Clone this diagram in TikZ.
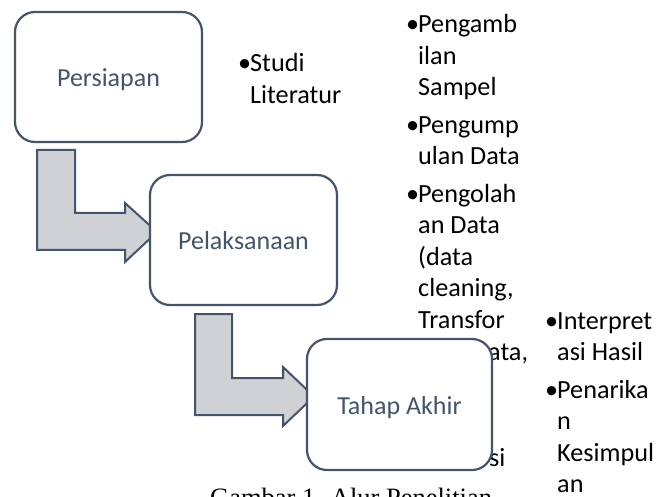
\documentclass[tikz,border=0pt]{standalone}
\usepackage{fontspec}
\setmainfont{Carlito}
\newfontfamily\capfont{Liberation Serif}
\definecolor{slate}{HTML}{44546A}
\definecolor{slatetext}{HTML}{44546A}
\definecolor{arrowfill}{HTML}{CFD1D5}
\newcommand{\bulline}[1]{\hbox{\llap{\makebox[12pt][l]{•}}#1}}
\newcommand{\txtline}[1]{\hbox{#1}}
\newcommand{\paragap}{\vskip 6pt}
\newcommand{\textblock}[1]{\vtop{\baselineskip=31.5pt\lineskiplimit=-100pt\lineskip=0pt #1}}
\tikzset{
  stage/.style={draw=slate, line width=2.2pt, fill=white, rounded corners=20pt,
    minimum width=187pt, minimum height=130pt, inner sep=0pt, text=slatetext,
    font=\fontsize{26}{31}\selectfont, text height=24pt, text depth=4pt},
  blockarrow/.style={draw=slate, line width=2pt, fill=arrowfill, line join=miter},
  bullets/.style={anchor=base west, inner sep=0pt, text=black,
    font=\fontsize{26.2}{31.5}\selectfont},
  caption/.style={anchor=base west, inner sep=0pt, text=black,
    font=\capfont\fontsize{26.5}{30}\selectfont}
}
\begin{document}
\begin{tikzpicture}[x=1pt, y=-1pt]
\clip (0,0) rectangle (656,497);
\fill[white] (0,0) rectangle (656,497);

% block arrows
\draw[blockarrow] (37,150) -- (75,150) -- (75,213) -- (125,213) -- (125,203)
  -- (157,232) -- (125,262) -- (125,250) -- (37,250) -- cycle;
\draw[blockarrow] (195,314) -- (232,314) -- (232,378) -- (283,378) -- (283,367)
  -- (314,396.5) -- (283,426) -- (283,415) -- (195,415) -- cycle;

% bullet texts
\node[bullets] (studi) at (250,72) {\textblock{\bulline{Studi}\txtline{Literatur}}};
\node[bullets] (pelaks) at (418,33) {\textblock{%
  \bulline{Pengamb}\txtline{ilan}\txtline{Sampel}\paragap
  \bulline{Pengump}\txtline{ulan Data}\paragap
  \bulline{Pengolah}\txtline{an Data}\txtline{(data}\txtline{cleaning,}\txtline{Transfor}}};
\node[bullets] (ata) at (488,360) {ata,};
\node[bullets] (si) at (489,466) {si};
\node[bullets] (akhir) at (557,329) {\textblock{%
  \bulline{Interpret}\txtline{asi Hasil}\paragap
  \bulline{Penarika}\txtline{n}\txtline{Kesimpul}\txtline{an}}};

% caption (cut off at the bottom)
\node[caption] (cap) at (210,506) {Gambar 1. Alur Penelitian};

% stage boxes
\node[stage] (b1) at (108.5,77) {Persiapan};
\node[stage] (b2) at (243.5,240) {Pelaksanaan};
\node[stage, minimum width=185pt, minimum height=131pt] (b3) at (399.5,404.5) {Tahap Akhir};
\end{tikzpicture}
\end{document}
